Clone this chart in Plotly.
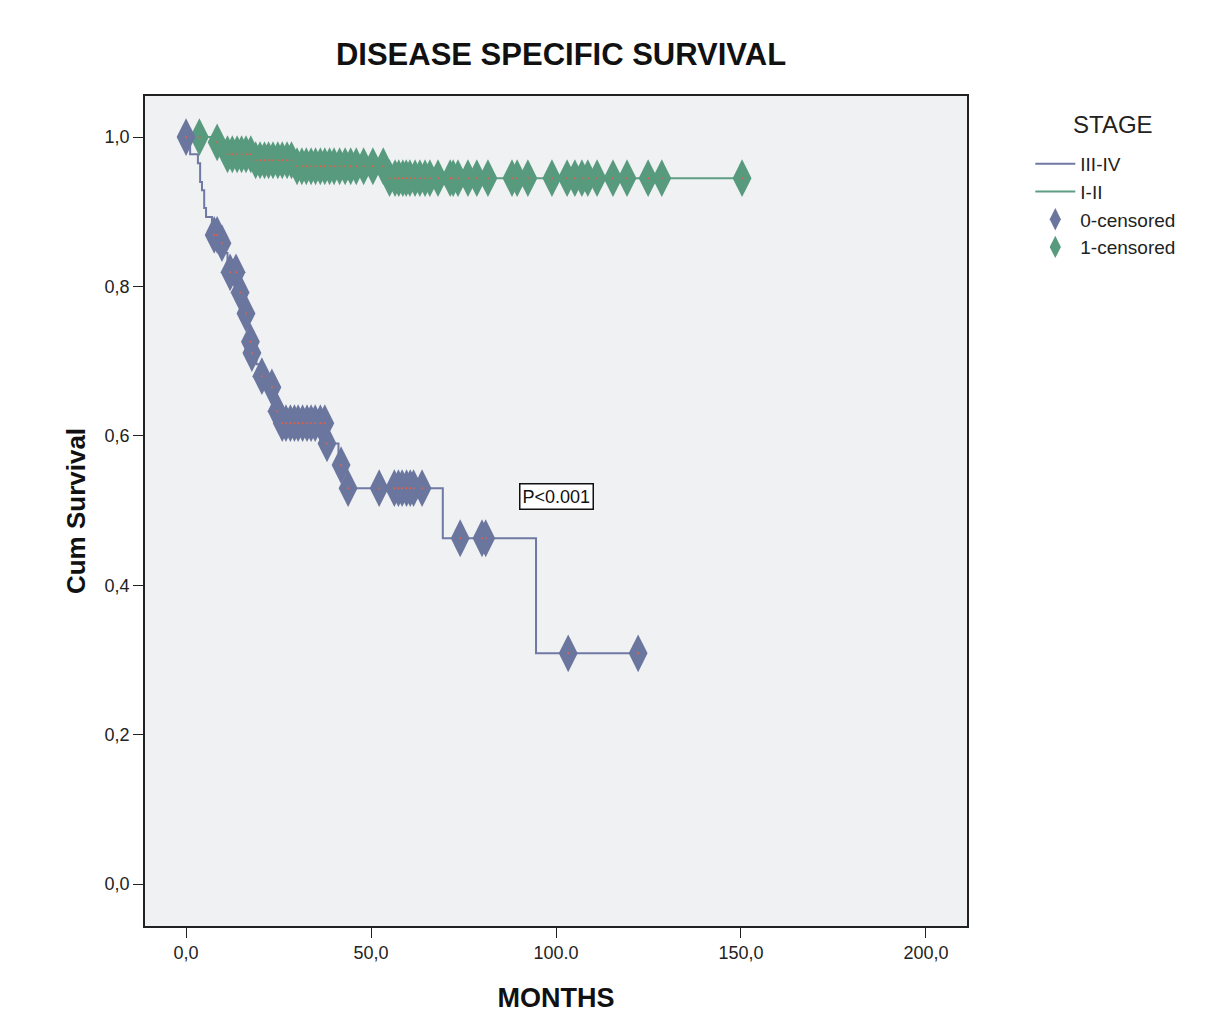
import numpy as np
import plotly.graph_objects as go

# ---- Data ----
# Stage III-IV: Kaplan-Meier steps (time in months, cumulative survival)
blue_step_t = [0, 1.1, 3.2, 3.8, 4.3, 4.9, 5.4, 7.0, 9.2, 10.8, 11.2, 11.8, 14.3, 15.8, 17.0,
               17.3, 17.6, 19.0, 20.3, 23.0, 24.0, 24.5, 25.5, 37.9, 41.2, 43.5, 69.4, 94.6]
blue_step_s = [1.0, 0.977, 0.965, 0.940, 0.929, 0.905, 0.893, 0.869, 0.858, 0.845, 0.833, 0.819,
               0.792, 0.764, 0.740, 0.726, 0.711, 0.696, 0.680, 0.665, 0.649, 0.633, 0.617,
               0.590, 0.561, 0.530, 0.463, 0.309]
blue_end_t = 122.2
blue_censored_t = [0, 7.6, 8.4, 9.7, 11.9, 13.5, 14.6, 16.2, 17.4, 17.8, 20.5, 23.2, 24.6,
                   26.0, 27.0, 28.2, 29.3, 30.3, 31.5, 32.7, 33.8, 34.9, 36.3, 37.5, 38.1,
                   41.9, 43.8, 52.2, 56.3, 57.4, 58.4, 59.6, 60.6, 61.5, 63.8, 74.1, 80.0,
                   81.0, 103.3, 122.2]

# Stage I-II
green_step_t = [0, 8.2, 10.2, 18.0, 29.0, 53.8]
green_step_s = [1.0, 0.993, 0.977, 0.969, 0.961, 0.945]
green_end_t = 150.3
green_censored_t = [3.6, 8.4, 11.2, 12.5, 13.8, 15.0, 16.2, 17.5, 18.8, 20.0, 21.2, 22.3,
                    23.5, 24.8, 26.0, 27.3, 28.5, 30.0, 31.3, 32.5, 33.8, 35.0, 36.3, 37.5,
                    38.8, 40.0, 41.5, 43.0, 44.5, 46.0, 48.0, 50.5, 53.3, 55.0, 56.5, 57.5,
                    58.6, 59.5, 60.5, 61.9, 63.2, 64.6, 65.9, 68.1, 71.4, 72.2, 73.5, 76.2,
                    78.6, 81.6, 88.1, 89.5, 92.4, 98.9, 103.0, 105.1, 107.0, 108.6, 111.1,
                    115.4, 119.2, 124.9, 128.6, 150.3]

x_tickvals = [0, 50, 100, 150, 200]
x_ticktext = ["0,0", "50,0", "100.0", "150,0", "200,0"]
y_tickvals = [0, 0.2, 0.4, 0.6, 0.8, 1.0]
y_ticktext = ["0,0", "0,2", "0,4", "0,6", "0,8", "1,0"]

BLUE_LINE = "#6f79a3"
BLUE_FILL = "#6b769f"
GREEN_LINE = "#5e9e84"
GREEN_FILL = "#579a7e"
RED = "#e0604a"
FONT = "Liberation Sans"


def surv_at(times, step_t, step_s):
    idx = np.searchsorted(np.array(step_t), np.array(times), side="right") - 1
    return list(np.array(step_s)[idx])


fig = go.Figure()

fig.add_trace(go.Scatter(x=blue_step_t + [blue_end_t], y=blue_step_s + [blue_step_s[-1]],
                         mode="lines", line=dict(color=BLUE_LINE, width=2, shape="hv"),
                         name="III-IV", legendrank=1))
fig.add_trace(go.Scatter(x=green_step_t + [green_end_t], y=green_step_s + [green_step_s[-1]],
                         mode="lines", line=dict(color=GREEN_LINE, width=2, shape="hv"),
                         name="I-II", legendrank=2))

blue_cy = surv_at(blue_censored_t, blue_step_t, blue_step_s)
green_cy = surv_at(green_censored_t, green_step_t, green_step_s)

fig.add_trace(go.Scatter(x=green_censored_t, y=green_cy, mode="markers",
                         marker=dict(symbol="diamond-tall", size=27, color=GREEN_FILL,
                                     line=dict(width=0)),
                         name="1-censored", legendrank=4))
fig.add_trace(go.Scatter(x=blue_censored_t, y=blue_cy, mode="markers",
                         marker=dict(symbol="diamond-tall", size=27, color=BLUE_FILL,
                                     line=dict(width=0)),
                         name="0-censored", legendrank=3))
fig.add_trace(go.Scatter(x=green_censored_t + blue_censored_t, y=green_cy + blue_cy,
                         mode="markers", marker=dict(symbol="circle", size=2, color=RED),
                         showlegend=False, hoverinfo="skip"))

fig.add_annotation(x=100, y=0.519, xref="x", yref="y", text="P<0.001", showarrow=False,
                   font=dict(family=FONT, size=18, color="#111"),
                   bordercolor="#111", borderwidth=1.5, borderpad=2, bgcolor="white")

# legend title as a separate label
fig.add_annotation(x=1.178, y=0.966, xref="paper", yref="paper", text="STAGE",
                   showarrow=False, xanchor="center", yanchor="middle",
                   font=dict(family=FONT, size=24, color="#222"))

fig.update_layout(
    width=1219, height=1027,
    margin=dict(l=137, r=260, t=88, b=109),
    paper_bgcolor="white", plot_bgcolor="#f0f1f3",
    font=dict(family=FONT, color="#222"),
    title=dict(text="<b>DISEASE SPECIFIC SURVIVAL</b>", x=553 / 1219, xanchor="center",
               y=1 - 46 / 1027, yanchor="middle", font=dict(size=31, color="#111")),
    showlegend=True,
    legend=dict(x=1.077, y=0.941, xanchor="left", yanchor="top", bgcolor="rgba(0,0,0,0)",
                font=dict(size=19, color="#222"),
                traceorder="normal", itemwidth=40),
)

fig.update_xaxes(range=[-11.1, 211.1], tickvals=x_tickvals, ticktext=x_ticktext,
                 showgrid=False, zeroline=False, showline=True, linecolor="#222", linewidth=1.5,
                 mirror=True, ticks="outside", ticklen=10, tickcolor="#222",
                 tickfont=dict(size=18, color="#222"),
                 title=dict(text="<b>MONTHS</b>", font=dict(size=27, color="#111"), standoff=26))
fig.update_yaxes(range=[-0.056, 1.055], tickvals=y_tickvals, ticktext=y_ticktext,
                 showgrid=False, zeroline=False, showline=True, linecolor="#222", linewidth=1.5,
                 mirror=True, ticks="outside", ticklen=10, tickcolor="#222",
                 tickfont=dict(size=18, color="#222"),
                 title=dict(text="<b>Cum Survival</b>", font=dict(size=26, color="#111"), standoff=12))

fig.write_html("out.html")
